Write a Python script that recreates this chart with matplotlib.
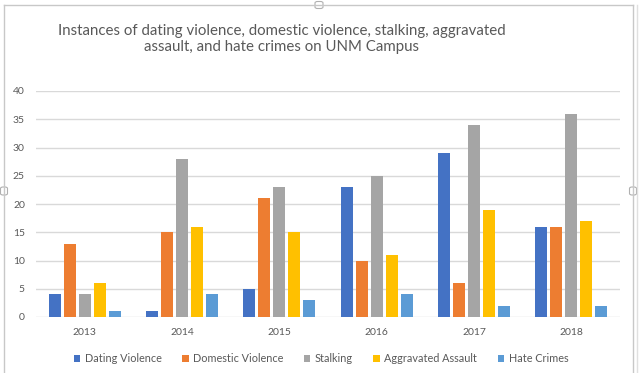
import matplotlib
matplotlib.use("Agg")
import matplotlib.pyplot as plt
import numpy as np
from matplotlib.lines import Line2D
from matplotlib.patches import FancyBboxPatch

years = ["2013", "2014", "2015", "2016", "2017", "2018"]
series_names = ["Dating Violence", "Domestic Violence", "Stalking",
                "Aggravated Assault", "Hate Crimes"]
dating_violence = [4, 1, 5, 23, 29, 16]
domestic_violence = [13, 15, 21, 10, 6, 16]
stalking = [4, 28, 23, 25, 34, 36]
aggravated_assault = [6, 16, 15, 11, 19, 17]
hate_crimes = [1, 4, 3, 4, 2, 2]
series_values = [dating_violence, domestic_violence, stalking,
                 aggravated_assault, hate_crimes]
colors = ["#4472C4", "#ED7D31", "#A5A5A5", "#FFC000", "#5B9BD5"]
title = ("Instances of dating violence, domestic violence, stalking, aggravated\n"
         "assault, and hate crimes on UNM Campus")

W, H = 640, 373
fig = plt.figure(figsize=(W / 100, H / 100), dpi=100)
fig.patch.set_facecolor("white")

def fx(px):
    return px / W

def fy(py):
    return 1 - py / H

FONT = "Lato"
TXT = "#595959"

ax = fig.add_axes([fx(36), fy(317), fx(620) - fx(36), fy(91) - fy(317)])
x = np.arange(len(years))
slot = 0.154
bw = 0.123
handles = []
for i, (name, vals, c) in enumerate(zip(series_names, series_values, colors)):
    b = ax.bar(x + (i - 2) * slot, vals, width=bw, color=c, label=name,
               zorder=3, linewidth=0)
    handles.append(b)

ax.set_xlim(-0.5, len(years) - 0.5)
ax.set_ylim(0, 40)
ax.set_yticks(np.arange(0, 41, 5))
ax.set_xticks(x)
ax.set_xticklabels(years)
ax.grid(axis="y", color="#D9D9D9", linewidth=1, zorder=0)
for s in ax.spines.values():
    s.set_visible(False)
ax.tick_params(axis="both", length=0, labelcolor=TXT, labelsize=7.5)
ax.tick_params(axis="y", pad=8)
ax.tick_params(axis="x", pad=8)
for lab in ax.get_xticklabels() + ax.get_yticklabels():
    lab.set_fontfamily(FONT)

fig.text(fx(282), fy(39), title, ha="center", va="center", color=TXT,
         fontsize=10.8, fontfamily=FONT, linespacing=1.2,
         multialignment="center")

leg = fig.legend(handles=handles, labels=series_names, loc="center",
                 bbox_to_anchor=(fx(321), fy(359)), ncol=5, frameon=False,
                 handlelength=0.6, handleheight=0.6, handletextpad=0.4,
                 columnspacing=1.9, prop={"family": FONT, "size": 7.8})
for t in leg.get_texts():
    t.set_color(TXT)

# frame of the chart object
fc = "#C8C8C8"
fig.add_artist(Line2D([fx(4), fx(4)], [fy(5), fy(373)], color=fc, lw=1))
fig.add_artist(Line2D([fx(4), fx(633)], [fy(5), fy(5)], color=fc, lw=1))
fig.add_artist(Line2D([fx(633), fx(633)], [fy(5), fy(373)], color=fc, lw=1))
fig.add_artist(Line2D([fx(637), fx(637)], [fy(5), fy(373)], color="#E0E0E0", lw=1))
# selection handles
for (cx, cy, w, h) in [(319, 5, 8, 7), (633, 191, 7, 8), (4, 191, 7, 8)]:
    p = FancyBboxPatch((fx(cx - w / 2), fy(cy + h / 2)), fx(w), h / H,
                       boxstyle="round,pad=0,rounding_size=0.004",
                       transform=fig.transFigure, facecolor="white",
                       edgecolor="#B0B0B0", lw=0.8)
    fig.add_artist(p)

fig.savefig("out.png", dpi=100, facecolor="white")
